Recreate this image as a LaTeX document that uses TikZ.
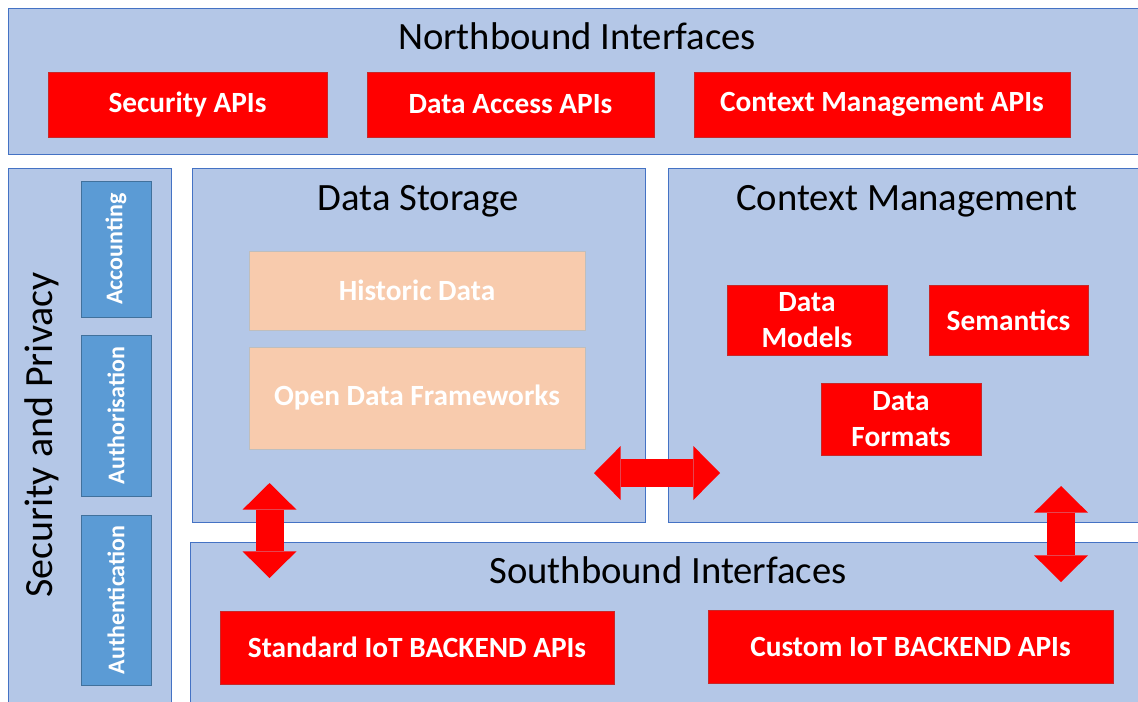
\documentclass[tikz,border=0pt]{standalone}
\usepackage{fontspec}
\setmainfont{Carlito}
\usetikzlibrary{fit,arrows.meta}

\definecolor{panelfill}{RGB}{180,199,231}
\definecolor{paneldraw}{RGB}{68,114,196}
\definecolor{apifill}{RGB}{255,0,0}
\definecolor{apidraw}{RGB}{200,40,40}
\definecolor{storefill}{RGB}{248,203,173}
\definecolor{storedraw}{RGB}{190,190,190}
\definecolor{aaafill}{RGB}{91,155,213}
\definecolor{aaadraw}{RGB}{65,113,156}

\tikzset{every picture/.style={line width=0.75pt}}
\tikzset{
	panel/.style={draw=paneldraw, fill=panelfill, inner sep=0pt},
	apibox/.style={draw=apidraw, fill=apifill, inner sep=0pt},
	storebox/.style={draw=storedraw, fill=storefill, inner sep=0pt},
	boxtext/.style={text=white, align=center, font=\fontsize{22}{27}\selectfont\bfseries},
	aaabox/.style={draw=aaadraw, fill=aaafill, inner sep=0pt},
	aaatext/.style={text=white, rotate=90, font=\fontsize{18}{22}\selectfont\bfseries},
	paneltitle/.style={anchor=base, font=\fontsize{29}{35}\selectfont},
	bigarrow/.style={draw=apifill, line width=21pt, {Triangle[length=20pt,width=40.5pt,line width=0pt]}-{Triangle[length=20pt,width=40.5pt,line width=0pt]}},
}

\begin{document}
\begin{tikzpicture}[x=0.75pt,y=0.75pt,yscale=-1,xscale=1]
	\useasboundingbox (0,0) rectangle (1138,701);
	\clip (0,0) rectangle (1138,701);

	%Shape: Panels
	\node[panel, fit={(8,8) (1160,154)}] (north) {};
	\node[panel, fit={(8,168) (171,720)}] (secpriv) {};
	\node[panel, fit={(192,168) (645,522)}] (storage) {};
	\node[panel, fit={(668,168) (1160,522)}] (context) {};
	\node[panel, fit={(190,542) (1160,720)}] (south) {};

	% Text Node
	\node[paneltitle] (northtitle) at (577,49) {Northbound Interfaces};
	% Text Node
	\node[paneltitle] (storagetitle) at (418,210) {Data Storage};
	% Text Node
	\node[paneltitle] (contexttitle) at (907,210) {Context Management};
	% Text Node
	\node[paneltitle] (southtitle) at (668,583) {Southbound Interfaces};
	% Text Node
	\node[paneltitle, rotate=90, font=\fontsize{30}{36}\selectfont] (secprivtitle) at (52,435) {Security and Privacy};

	%Shape: Rectangle
	\node[apibox, fit={(48,72) (327,137)}, label={[boxtext]center:Security APIs}] (secapi) {};
	\node[apibox, fit={(367,72) (654,137)}, label={[boxtext]center:Data Access APIs}] (dataapi) {};
	\node[apibox, fit={(694,72) (1070,137)}, label={[boxtext]center:Context Management APIs}] (contextapi) {};

	%Shape: Rectangle
	\node[aaabox, fit={(81,181) (151,317)}, label={[aaatext]center:Accounting}] (accounting) {};
	\node[aaabox, fit={(81,335) (151,496)}, label={[aaatext]center:Authorisation}] (authorisation) {};
	\node[aaabox, fit={(81,515) (151,685)}, label={[aaatext]center:Authentication}] (authentication) {};

	%Shape: Rectangle
	\node[storebox, fit={(249,251) (585,330)}, label={[boxtext]center:Historic Data}] (historic) {};
	\node[storebox, fit={(249,347) (585,449)}, label={[boxtext]center:Open Data Frameworks}] (opendata) {};

	%Shape: Rectangle
	\node[apibox, fit={(727,285) (887,355)}, label={[boxtext]center:Data\\Models}] (datamodels) {};
	\node[apibox, fit={(929,285) (1088,355)}, label={[boxtext]center:Semantics}] (semantics) {};
	\node[apibox, fit={(821,383) (981,455)}, label={[boxtext]center:Data\\Formats}] (dataformats) {};

	%Shape: Rectangle
	\node[apibox, fit={(220,611) (614,684)}, label={[boxtext]center:Standard IoT BACKEND APIs}] (stdapi) {};
	\node[apibox, fit={(708,610) (1113,683)}, label={[boxtext]center:Custom IoT BACKEND APIs}] (customapi) {};

	%Double Arrows
	\coordinate (storagein) at (594,473);
	\coordinate (contextin) at (720,473);
	\draw[bigarrow] (storagein) -- (contextin);
	\coordinate (storagedown) at (269.5,483);
	\coordinate (southup) at (269.5,578);
	\draw[bigarrow] (storagedown) -- (southup);
	\coordinate (contextdown) at (1061,486);
	\coordinate (southright) at (1061,582);
	\draw[bigarrow] (contextdown) -- (southright);

\end{tikzpicture}
\end{document}
